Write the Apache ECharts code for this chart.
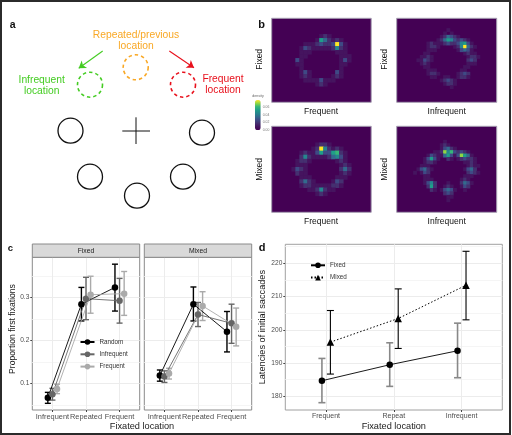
<!DOCTYPE html>
<html><head><meta charset="utf-8">
<style>html,body{margin:0;padding:0;background:#fff}#c{width:512px;height:435px}</style>
<script src="https://cdn.jsdelivr.net/npm/echarts@6/dist/echarts.min.js"></script>
</head><body><div id="c"></div>
<script>
// ---------- panel a: schematic, in picture units of a hidden axis pair ----------
const solidCircles = [[70.5,130.7],[202,132.7],[90,176.7],[183,176.7],[137,195.7]];
const greenCircle = [[90,84.7]];
const orangeCircle = [[135.7,67.3]];
const redCircle = [[183,84.7]];
const crossH = [[122.3,131],[150,131]];
const crossV = [[136,117.3],[136,144]];
const greenArrow = [[102.7,51],[78.7,68.3]];
const redArrow = [[169.3,51],[194,67.7]];

// ---------- panel b: density, runs "startCol:digits" per row ----------
const densFixedFrequent = ["","","","","12:121","11:1642121","8:11123223931","7:132111112521","7:111 16:111","7:11 17:111","6:31 17:131","6:11 17:11","7:1 17:1","7:131 16:31","7:121 15:121","8:11113111","11:121"];
const densMixedFrequent = ["","","","","11:1221","10:12952121","7:121136336721","7:252111124531","6:1221 16:121","6:111 17:121","5:1321 17:242","6:211 17:121","7:111 16:111","7:2421 15:132","7:12211111221","9:1125211","11:121"];
const densFixedInfrequent = ["","","","15:1","14:101","13:124321","12:1246532321","9:12111232235631","9:1221 17:1259421","9:111 18:13431","8:11 20:1211","7:1121 21:1221","6:11321 21:232","7:121 21:111","8:11 20:11","9:111 19:11","9:1221 18:1232","10:11 14:11 18:1221","13:12321","14:1221","16:1"];
const densMixedInfrequent = ["","","","","14:1","13:121","13:13421","11:11285732321","9:13211463138641","8:13631 15:21 18:123221","8:1221 20:1121","7:111 21:1211","6:13421 20:1342","5:1 7:132 21:2321","8:11 20:111","8:111 19:121","8:1352 15:1 19:2431","9:262 14:121 19:132","10:21 13:13431 20:1","14:232","15:11","15:1"];
const viridis = ['#440154','#45145f','#453070','#3f4a85','#336a8d','#26868e','#1f9e89','#35b779','#8fd744','#fde725'];
const densityTicks = ['0.06','0.04','0.02','0.00'];

// ---------- panel c ----------
const cCats = ['Infrequent','Repeated','Frequent'];
const fixedRandomMean = [.0666,.284,.323], fixedRandomLow = [.0535,.245,.268], fixedRandomHigh = [.079,.323,.377];
const fixedInfreqMean = [.0747,.2968,.292], fixedInfreqLow = [.061,.248,.24], fixedInfreqHigh = [.0884,.3465,.344];
const fixedFreqMean = [.087,.306,.3085], fixedFreqLow = [.076,.263,.258], fixedFreqHigh = [.098,.349,.36];
const mixedRandomMean = [.118,.284,.22], mixedRandomLow = [.105,.245,.173], mixedRandomHigh = [.131,.324,.267];
const mixedInfreqMean = [.116,.26,.2395], mixedInfreqLow = [.102,.232,.193], mixedInfreqHigh = [.129,.288,.284];
const mixedFreqMean = [.123,.28,.2315], mixedFreqLow = [.11,.246,.187], mixedFreqHigh = [.135,.313,.275];
const cMajor = [.1,.2,.3], cMinor = [.05,.15,.25,.35];

// ---------- panel d ----------
const dCats = ['Frequent','Repeat','Infrequent'];
const dFixedMean = [184.7,189.5,193.7], dFixedLow = [178.1,183,185.6], dFixedHigh = [191.4,196.1,202];
const dMixedMean = [196.3,203.4,213.4], dMixedLow = [186.7,194.4,203], dMixedHigh = [205.8,212.3,223.6];
const dMajor = [180,190,200,210,220], dMinor = [185,195,205,215,225];

const FONT = '"Liberation Sans", Arial, sans-serif';
const grid = [], xAxis = [], yAxis = [], series = [];

// canvas grid for the schematic
grid.push({left:0,top:0,width:512,height:435});
xAxis.push({type:'value',min:0,max:512,show:false,gridIndex:0});
yAxis.push({type:'value',min:0,max:435,inverse:true,show:false,gridIndex:0});
const circle = (d,col,dash)=>({type:'scatter',xAxisIndex:0,yAxisIndex:0,data:d,symbolSize:25,silent:true,
  itemStyle:{color:'rgba(0,0,0,0)',borderColor:col,borderWidth:dash?1.6:1.3,borderType:dash?[3.4,3]:'solid',opacity:1}});
series.push(circle(solidCircles,'#111',false),circle(greenCircle,'#44cc22',true),circle(orangeCircle,'#f9a825',true),circle(redCircle,'#e8101c',true));
const seg = (d,col,w)=>({type:'line',xAxisIndex:0,yAxisIndex:0,data:d,symbol:'none',silent:true,lineStyle:{color:col,width:w}});
series.push(seg(crossH,'#111',1),seg(crossV,'#111',1));
const arrowSeries=(d,col)=>({type:'lines',coordinateSystem:'cartesian2d',xAxisIndex:0,yAxisIndex:0,silent:true,
  data:[{coords:d}],symbol:['none','arrow'],symbolSize:7,lineStyle:{color:col,width:1.1,opacity:1}});
series.push(arrowSeries(greenArrow,'#44cc22'),arrowSeries(redArrow,'#e8101c'));

// heat panels
const heatIdx = [];
function heat(rows,cols,nRows,left,top,w,h){
  const gi = grid.length;
  grid.push({left,top,width:w,height:h,show:true,backgroundColor:viridis[0],borderColor:'#a79fb2',borderWidth:1});
  xAxis.push({type:'category',gridIndex:gi,show:false,data:Array.from({length:cols},(_,i)=>i)});
  yAxis.push({type:'category',gridIndex:gi,show:false,inverse:true,data:Array.from({length:nRows},(_,i)=>i)});
  const data=[];
  rows.forEach((r,ri)=>{ if(!r) return; r.split(' ').forEach(run=>{ const [s,dg]=run.split(':'); [...dg].forEach((ch,k)=>{ if(ch!=='0') data.push([+s+k,ri,+ch]); }); }); });
  heatIdx.push(series.length);
  series.push({type:'heatmap',xAxisIndex:gi,yAxisIndex:gi,data,silent:true,itemStyle:{borderWidth:0}});
}
heat(densFixedFrequent,25,21,271.7,18.3,99.5,84);
heat(densFixedInfrequent,30,25,396.7,18.3,100,84);
heat(densMixedFrequent,25,21,271.7,126.3,99.5,86);
heat(densMixedInfrequent,30,25,396.7,126.3,100,86);

// error bars through the library's coordinate mapping
function errorBars(xs,lo,hi,col,w,cap,xi,yi){
  return {type:'custom',xAxisIndex:xi,yAxisIndex:yi,silent:true,z:2,clip:false,
    data:xs.map((x,i)=>[x,lo[i],hi[i]]),
    encode:{x:0,y:[1,2]},
    renderItem:(p,api)=>{
      const a=api.coord([api.value(0),api.value(1)]), b=api.coord([api.value(0),api.value(2)]);
      const st={stroke:col,lineWidth:w,fill:null};
      return {type:'group',children:[
        {type:'line',shape:{x1:a[0],y1:a[1],x2:b[0],y2:b[1]},style:st},
        {type:'line',shape:{x1:a[0]-cap,y1:a[1],x2:a[0]+cap,y2:a[1]},style:st},
        {type:'line',shape:{x1:b[0]-cap,y1:b[1],x2:b[0]+cap,y2:b[1]},style:st}]};
    }};
}
function gridAxes(left,top,w,h,yMin,yMax,major,minor,cats,showY,tickCol,labelSize,fmt,extraX,extraY){
  const gi=grid.length, xi=xAxis.length, yi=yAxis.length;
  grid.push({left,top,width:w,height:h,show:true,backgroundColor:'#fff',borderColor:tickCol,borderWidth:1});
  xAxis.push(Object.assign({type:'value',gridIndex:gi,min:.4,max:3.6,
    axisLine:{show:false},axisTick:{show:true,length:2,customValues:[1,2,3],lineStyle:{color:'#444'}},
    axisLabel:{show:true,customValues:[1,2,3],margin:3,fontSize:labelSize,fontFamily:FONT,color:'#4d4d4d',formatter:v=>cats[Math.round(v)-1]||''},
    splitLine:{show:true,lineStyle:{color:'#ececec',width:1}}},extraX||{}));
  yAxis.push(Object.assign({type:'value',gridIndex:gi,min:yMin,max:yMax,
    axisLine:{show:false},axisTick:{show:showY,length:2,customValues:major,lineStyle:{color:'#444'}},
    axisLabel:{show:showY,customValues:major,margin:3,fontSize:6.6,fontFamily:FONT,color:'#4d4d4d',formatter:fmt},
    splitLine:{show:true,lineStyle:{color:'#ececec',width:1}}},extraY||{}));
  yAxis.push({type:'value',gridIndex:gi,min:yMin,max:yMax,position:'right',
    axisLine:{show:false},axisLabel:{show:false},axisTick:{show:false,customValues:minor},
    splitLine:{show:true,lineStyle:{color:'#f5f5f5',width:1}}});
  return [xi,yi];
}
const cGroups = {
  fixed:[['Random','#000',fixedRandomMean,fixedRandomLow,fixedRandomHigh],['Infrequent','#666',fixedInfreqMean,fixedInfreqLow,fixedInfreqHigh],['Frequent','#aaa',fixedFreqMean,fixedFreqLow,fixedFreqHigh]],
  mixed:[['Random','#000',mixedRandomMean,mixedRandomLow,mixedRandomHigh],['Infrequent','#666',mixedInfreqMean,mixedInfreqLow,mixedInfreqHigh],['Frequent','#aaa',mixedFreqMean,mixedFreqLow,mixedFreqHigh]]
};
const cDodge=[-.137,0,.137];
function cPanel(groups,left,w,showY){
  const [xi,yi]=gridAxes(left,257.3,w,152.7,.038,.393,cMajor,cMinor,cCats,showY,'#8a8a8a',7.4,v=>v.toFixed(1));
  groups.forEach((g,k)=>{
    const xs=[1,2,3].map(v=>v+cDodge[k]);
    series.push(errorBars(xs,g[3],g[4],g[1],1.4,3,xi,yi));
    series.push({type:'line',name:g[0],xAxisIndex:xi,yAxisIndex:yi,data:xs.map((x,i)=>[x,g[2][i]]),z:3,symbol:'circle',symbolSize:6.5,silent:true,
      lineStyle:{color:g[1],width:.9},itemStyle:{color:g[1]}});
  });
}
cPanel(cGroups.fixed,32.3,107.4,true);
cPanel(cGroups.mixed,144.3,107.4,false);

// panel d
{
  const [xi,yi]=gridAxes(285.3,244.3,217,165.7,175.9,225.7,dMajor,dMinor,dCats,true,'#a0a0a0',7,v=>String(Math.round(v)),
    {name:'Fixated location',nameLocation:'middle',nameGap:12,nameTextStyle:{fontFamily:FONT,fontSize:9.2,color:'#1a1a1a'}},
    {name:'Latencies of initial saccades',nameLocation:'middle',nameGap:15.5,nameTextStyle:{fontFamily:FONT,fontSize:9.2,color:'#1a1a1a'}});
  const xf=[1,2,3].map(v=>v-.06), xm=[1,2,3].map(v=>v+.065);
  series.push(errorBars(xf,dFixedLow,dFixedHigh,'#888',1.6,3.5,xi,yi));
  series.push(errorBars(xm,dMixedLow,dMixedHigh,'#000',1.1,3.5,xi,yi));
  series.push({type:'line',name:'Fixed',xAxisIndex:xi,yAxisIndex:yi,z:3,symbol:'circle',symbolSize:6.5,silent:true,data:xf.map((x,i)=>[x,dFixedMean[i]]),lineStyle:{color:'#000',width:.9},itemStyle:{color:'#000'}});
  series.push({type:'line',name:'Mixed',xAxisIndex:xi,yAxisIndex:yi,z:3,symbol:'triangle',symbolSize:7.5,silent:true,data:xm.map((x,i)=>[x,dMixedMean[i]]),lineStyle:{color:'#000',width:1,type:[1.5,2]},itemStyle:{color:'#000'}});
}

// text and frame
const T=(text,x,y,opt={})=>({type:'text',x,y,rotation:opt.rot||0,z:50,silent:true,style:{text,fill:opt.col||'#111',
  font:`${opt.w||'normal'} ${opt.s||8.5}px ${FONT}`,align:opt.a||'center',verticalAlign:'middle'}});
const R=Math.PI/2;
const graphic=[
  {type:'rect',shape:{x:1,y:1,width:509,height:433},z:60,silent:true,style:{fill:null,stroke:'#2b2b2b',lineWidth:2}},
  T('a',12.7,25,{w:'bold',s:10.5}),T('b',261.7,24.5,{w:'bold',s:11}),T('c',10.5,248,{w:'bold',s:9.5}),T('d',262,247.7,{w:'bold',s:11}),
  T('Repeated/previous',136,34.7,{col:'#f9a825',s:10.3}),T('location',136,46,{col:'#f9a825',s:10.3}),
  T('Infrequent',41.7,80,{col:'#44cc22',s:10.3}),T('location',41.7,91,{col:'#44cc22',s:10.3}),
  T('Frequent',223,79.3,{col:'#e8101c',s:10.3}),T('location',223,90.3,{col:'#e8101c',s:10.3}),
  T('Fixed',260,59.3,{rot:R}),T('Fixed',385,59.3,{rot:R}),T('Mixed',260,169.3,{rot:R}),T('Mixed',385,169.3,{rot:R}),
  T('Frequent',321,111.3),T('Infrequent',446.7,111.3),T('Frequent',321,221.3),T('Infrequent',446.7,221.3),
  T('density',258,96,{s:3.6,col:'#666'}),
  ...densityTicks.map((t,i)=>T(t,266,107.5+i*7.5,{s:3.4,col:'#777'})),
  {type:'rect',shape:{x:32.3,y:244,width:107.4,height:13.3},z:20,silent:true,style:{fill:'#d9d9d9',stroke:'#8a8a8a',lineWidth:1}},
  {type:'rect',shape:{x:144.3,y:244,width:107.4,height:13.3},z:20,silent:true,style:{fill:'#d9d9d9',stroke:'#8a8a8a',lineWidth:1}},
  T('Fixed',86,250.7,{s:6.8,col:'#1a1a1a'}),T('Mixed',198,250.7,{s:6.8,col:'#1a1a1a'}),
  T('Proportion first fixations',12.3,329,{rot:R,s:8.6,col:'#1a1a1a'}),
  T('Fixated location',142,426,{s:9.2,col:'#1a1a1a'})
];

const chart=echarts.init(document.getElementById('c'),null,{renderer:'canvas'});
chart.setOption({
  animation:false,backgroundColor:'#fff',
  grid,xAxis,yAxis,series,graphic,
  visualMap:{type:'continuous',seriesIndex:heatIdx,min:0,max:9,calculable:false,show:true,realtime:false,silent:true,
    left:255,top:100,itemWidth:5.7,itemHeight:30,text:['',''],showLabel:false,textStyle:{fontSize:1,color:'rgba(0,0,0,0)'},padding:0,
    inRange:{color:viridis}},
  legend:[
    {left:79.5,top:339,orient:'vertical',itemWidth:14,itemHeight:7,itemGap:6.3,selectedMode:false,padding:0,data:['Random','Infrequent','Frequent'],textStyle:{fontFamily:FONT,fontSize:6.3,color:'#333'}},
    {left:310,top:262.3,orient:'vertical',itemWidth:14,itemHeight:7,itemGap:6.3,selectedMode:false,padding:0,data:['Fixed','Mixed'],textStyle:{fontFamily:FONT,fontSize:6.3,color:'#333'}}
  ]
});
</script></body></html>
